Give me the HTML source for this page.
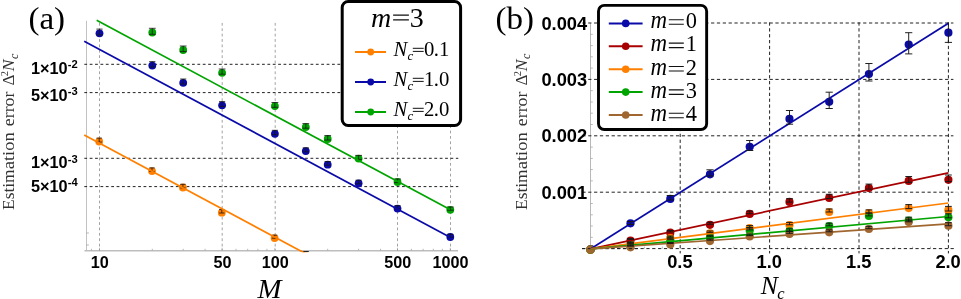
<!DOCTYPE html>
<html><head><meta charset="utf-8"><title>Estimation error</title>
<style>
html,body{margin:0;padding:0;background:#fff;}
body{width:961px;height:299px;overflow:hidden;}
svg{display:block;will-change:transform;}
text{fill:#000;}
.s{font-family:"Liberation Serif",serif;}
.si{font-family:"Liberation Serif",serif;font-style:italic;}
.b{font-family:"Liberation Sans",sans-serif;font-weight:bold;}
g[fill] text{fill:inherit;}
</style></head><body>
<svg width="961" height="299" viewBox="0 0 961 299">
<defs><clipPath id="ca"><rect x="80" y="0" width="400" height="252.2"/></clipPath></defs>
<rect width="961" height="299" fill="#fff"/>
<path d="M86.5 20.8V250.4" stroke="#adadad" stroke-width="0.75" fill="none"/><path d="M84.5 250.8H458" stroke="#bdbdbd" stroke-width="1.6" fill="none"/>
<path d="M91.5 250.4v-1.6M152.3 250.4v-1.6M183.2 250.4v-1.6M205.1 250.4v-1.6M236.0 250.4v-1.6M247.7 250.4v-1.6M257.9 250.4v-1.6M266.9 250.4v-1.6M327.7 250.4v-1.6M358.6 250.4v-1.6M380.5 250.4v-1.6M411.4 250.4v-1.6M423.1 250.4v-1.6M433.3 250.4v-1.6M442.3 250.4v-1.6M99.5 250.4v-2.6M222.1 250.4v-2.6M274.9 250.4v-2.6M397.5 250.4v-2.6M450.3 250.4v-2.6M86.5 233h2.4M86.5 245h2.4" stroke="#9a9a9a" stroke-width="0.7" fill="none"/>
<path d="M99.5 22.9V250.4M222.2 22.9V250.4M275.2 22.9V250.4M397.5 22.9V250.4M450.5 22.9V250.4" stroke="#8c8c8c" stroke-width="0.8" stroke-dasharray="2.8 2.585" fill="none"/>
<path d="M84.3 64.3H458.3M84.3 92.6H458.3M84.3 158.3H458.3M84.3 186.6H458.3" stroke="#222" stroke-width="1" stroke-dasharray="2.8 2.585" fill="none"/>
<g clip-path="url(#ca)">
<circle cx="99.2" cy="141.5" r="3.9" fill="#ff8000"/>
<circle cx="152.0" cy="171.1" r="3.9" fill="#ff8000"/>
<circle cx="182.9" cy="187.5" r="3.9" fill="#ff8000"/>
<circle cx="221.8" cy="212.7" r="3.9" fill="#ff8000"/>
<circle cx="274.6" cy="238.1" r="3.9" fill="#ff8000"/>
<circle cx="305.2" cy="255.6" r="3.9" fill="#ff8000"/><path d="M302.6 251.5H308.8" stroke="#111" stroke-width="0.9"/>
<circle cx="99.5" cy="33.3" r="3.9" fill="#0a0aa8"/>
<circle cx="152.3" cy="65.6" r="3.9" fill="#0a0aa8"/>
<circle cx="183.2" cy="82.8" r="3.9" fill="#0a0aa8"/>
<circle cx="222.1" cy="105.3" r="3.9" fill="#0a0aa8"/>
<circle cx="274.9" cy="133.8" r="3.9" fill="#0a0aa8"/>
<circle cx="305.8" cy="151.1" r="3.9" fill="#0a0aa8"/>
<circle cx="327.7" cy="164.7" r="3.9" fill="#0a0aa8"/>
<circle cx="358.6" cy="183.3" r="3.9" fill="#0a0aa8"/>
<circle cx="397.5" cy="208.6" r="3.9" fill="#0a0aa8"/>
<circle cx="450.3" cy="237.0" r="3.9" fill="#0a0aa8"/>
<circle cx="152.3" cy="32.5" r="3.9" fill="#00a400"/>
<circle cx="183.2" cy="50.0" r="3.9" fill="#00a400"/>
<circle cx="222.1" cy="72.8" r="3.9" fill="#00a400"/>
<circle cx="274.9" cy="106.1" r="3.9" fill="#00a400"/>
<circle cx="305.8" cy="127.1" r="3.9" fill="#00a400"/>
<circle cx="327.7" cy="139.0" r="3.9" fill="#00a400"/>
<circle cx="358.6" cy="158.6" r="3.9" fill="#00a400"/>
<circle cx="397.5" cy="182.0" r="3.9" fill="#00a400"/>
<circle cx="450.3" cy="209.8" r="3.9" fill="#00a400"/>
<path d="M99.2 138.1V142.1M96.5 138.1H101.9M96.5 142.1H101.9M152.0 167.9V171.5M149.3 167.9H154.7M149.3 171.5H154.7M182.9 184.3V187.9M180.2 184.3H185.6M180.2 187.9H185.6M221.8 209.6V213.0M219.1 209.6H224.5M219.1 213.0H224.5M274.6 235.2V238.2M271.9 235.2H277.3M271.9 238.2H277.3M99.5 29.1V34.9M96.4 29.1H102.6M96.4 34.9H102.6M152.3 61.6V67.0M149.2 61.6H155.4M149.2 67.0H155.4M183.2 79.0V84.0M180.1 79.0H186.3M180.1 84.0H186.3M222.1 101.6V106.4M219.0 101.6H225.2M219.0 106.4H225.2M274.9 130.3V134.7M271.8 130.3H278.0M271.8 134.7H278.0M305.8 147.8V151.8M302.7 147.8H308.9M302.7 151.8H308.9M327.7 161.5V165.3M324.6 161.5H330.8M324.6 165.3H330.8M358.6 180.2V183.8M355.5 180.2H361.7M355.5 183.8H361.7M397.5 205.7V208.9M394.4 205.7H400.6M394.4 208.9H400.6M450.3 234.3V237.1M447.2 234.3H453.4M447.2 237.1H453.4M152.3 28.3V34.3M148.9 28.3H155.7M148.9 34.3H155.7M183.2 46.0V51.6M179.8 46.0H186.6M179.8 51.6H186.6M222.1 69.0V74.2M218.7 69.0H225.5M218.7 74.2H225.5M274.9 102.5V107.3M271.5 102.5H278.3M271.5 107.3H278.3M305.8 123.6V128.2M302.4 123.6H309.2M302.4 128.2H309.2M327.7 135.6V140.0M324.3 135.6H331.1M324.3 140.0H331.1M358.6 155.4V159.4M355.2 155.4H362.0M355.2 159.4H362.0M397.5 179.0V182.6M394.1 179.0H400.9M394.1 182.6H400.9M450.3 207.0V210.2M446.9 207.0H453.7M446.9 210.2H453.7" stroke="#161616" stroke-width="0.85" stroke-opacity="0.95" fill="none"/>
</g>
<g clip-path="url(#ca)"><path d="M84.2 135.0L304.4 253.0" stroke="#ff8000" stroke-width="1.7" fill="none"/></g>
<path d="M84.2 41.2L450.0 237.2" stroke="#0a0aa8" stroke-width="1.7" fill="none"/>
<path d="M96.7 20.3L450.0 209.6" stroke="#00a400" stroke-width="1.7" fill="none"/>
<rect x="342.2" y="1.5" width="118.4" height="124.05" rx="6" fill="#fff" stroke="#000" stroke-width="3"/>
<path d="M355 52.0H386" stroke="#ff8000" stroke-width="2"/><circle cx="370.7" cy="52.0" r="3.4" fill="#ff8000"/>
<text class="si" x="393.6" y="56.3" font-size="20.7">N</text><text class="si" x="407.4" y="59.699999999999996" font-size="13">c</text>
<path d="M412.8 48.3H423.7M412.8 51.4H423.7" stroke="#111" stroke-width="1"/>
<text class="s" x="424 433.8 439" y="56.3" font-size="20.7">0.1</text>
<path d="M355 82.0H386" stroke="#0a0aa8" stroke-width="2"/><circle cx="370.7" cy="82.0" r="3.4" fill="#0a0aa8"/>
<text class="si" x="393.6" y="86.3" font-size="20.7">N</text><text class="si" x="407.4" y="89.7" font-size="13">c</text>
<path d="M412.8 78.3H423.7M412.8 81.4H423.7" stroke="#111" stroke-width="1"/>
<text class="s" x="424 433.8 439" y="86.3" font-size="20.7">1.0</text>
<path d="M355 112.0H386" stroke="#00a400" stroke-width="2"/><circle cx="370.7" cy="112.0" r="3.4" fill="#00a400"/>
<text class="si" x="393.6" y="116.3" font-size="20.7">N</text><text class="si" x="407.4" y="119.7" font-size="13">c</text>
<path d="M412.8 108.3H423.7M412.8 111.4H423.7" stroke="#111" stroke-width="1"/>
<text class="s" x="424 433.8 439" y="116.3" font-size="20.7">2.0</text>
<text class="si" x="371" y="26.8" font-size="28">m</text><path d="M393.1 15.1H408.9M393.1 19.9H408.9" stroke="#111" stroke-width="1.1"/><text class="s" x="409.7" y="26.8" font-size="28">3</text>
<text class="b" x="31" y="73.5" font-size="16.3">1×10</text><text class="b" x="67.7" y="67.7" font-size="11.2">-2</text>
<text class="b" x="31" y="100.8" font-size="16.3">5×10</text><text class="b" x="67.7" y="95.0" font-size="11.2">-3</text>
<text class="b" x="31" y="168.4" font-size="16.3">1×10</text><text class="b" x="67.7" y="162.6" font-size="11.2">-3</text>
<text class="b" x="31" y="191.6" font-size="16.3">5×10</text><text class="b" x="67.7" y="185.8" font-size="11.2">-4</text>
<text class="b" x="99.8" y="268" font-size="16.2" text-anchor="middle">10</text>
<text class="b" x="222.4" y="268" font-size="16.2" text-anchor="middle">50</text>
<text class="b" x="275.2" y="268" font-size="16.2" text-anchor="middle">100</text>
<text class="b" x="397.8" y="268" font-size="16.2" text-anchor="middle">500</text>
<text class="b" x="450.6" y="268" font-size="16.2" text-anchor="middle">1000</text>
<text class="si" x="257.6" y="298" font-size="26.5" textLength="24" lengthAdjust="spacingAndGlyphs">M</text>
<text class="s" x="28.4" y="29" font-size="31.6" textLength="36.7" lengthAdjust="spacingAndGlyphs">(a)</text>
<g transform="translate(14.4 0) rotate(-90)" fill="#333"><text class="s" x="-210" y="0" font-size="16" textLength="40.6" lengthAdjust="spacingAndGlyphs">Estim</text><text class="s" x="-169.3" y="0" font-size="16" textLength="37" lengthAdjust="spacingAndGlyphs">ation</text><text class="s" x="-126.2" y="0" font-size="16" textLength="34.6" lengthAdjust="spacingAndGlyphs">error</text><text class="s" x="-85.5" y="0" font-size="17">Δ</text><text class="s" x="-76.2" y="-6" font-size="10.5">2</text><text class="si" x="-71.2" y="0" font-size="17.5">N</text><text class="si" x="-59" y="3.4" font-size="12">c</text></g>
<path d="M590.5 22.9V248.6" stroke="#a6a6a6" stroke-width="0.8" fill="none"/>
<path d="M590.8 237.3h2M590.8 226.0h2M590.8 214.8h2M590.8 203.5h2M590.8 180.9h2M590.8 169.6h2M590.8 158.4h2M590.8 147.1h2M590.8 124.5h2M590.8 113.2h2M590.8 102.0h2M590.8 90.7h2M590.8 68.1h2M590.8 56.8h2M590.8 45.6h2M590.8 34.3h2M608.7 248.6v-2M626.6 248.6v-2M644.4 248.6v-2M662.3 248.6v-2M698.1 248.6v-2M716.0 248.6v-2M733.8 248.6v-2M751.7 248.6v-2M787.5 248.6v-2M805.4 248.6v-2M823.2 248.6v-2M841.1 248.6v-2M876.9 248.6v-2M894.8 248.6v-2M912.6 248.6v-2M930.5 248.6v-2" stroke="#9a9a9a" stroke-width="0.7" fill="none"/>
<path d="M582.0 248.6H955.6M582.35 192.2H953.4M582.35 135.8H953.4M582.35 79.4H953.4M582.35 23.0H953.4" stroke="#222" stroke-width="1" stroke-dasharray="3.25 2.6" fill="none"/>
<path d="M680.2 22.4V253.4M769.6 22.4V253.4M859.0 22.4V253.4M948.4 22.4V253.4" stroke="#222" stroke-width="1" stroke-dasharray="3.3 2.56" fill="none"/>
<circle cx="590.8" cy="249.2" r="4.1" fill="#0a0aa8"/>
<circle cx="630.5" cy="223.3" r="4.1" fill="#0a0aa8"/>
<circle cx="670.3" cy="198.9" r="4.1" fill="#0a0aa8"/>
<circle cx="710.0" cy="174.3" r="4.1" fill="#0a0aa8"/>
<circle cx="749.7" cy="146.8" r="4.1" fill="#0a0aa8"/>
<circle cx="789.5" cy="118.9" r="4.1" fill="#0a0aa8"/>
<circle cx="829.2" cy="101.8" r="4.1" fill="#0a0aa8"/>
<circle cx="868.9" cy="74.0" r="4.1" fill="#0a0aa8"/>
<circle cx="908.7" cy="44.6" r="4.1" fill="#0a0aa8"/>
<circle cx="948.4" cy="32.7" r="4.1" fill="#0a0aa8"/>
<circle cx="590.4" cy="249.7" r="4.1" fill="#a80000"/>
<circle cx="630.5" cy="240.6" r="4.1" fill="#a80000"/>
<circle cx="670.3" cy="232.7" r="4.1" fill="#a80000"/>
<circle cx="710.0" cy="224.8" r="4.1" fill="#a80000"/>
<circle cx="749.7" cy="213.9" r="4.1" fill="#a80000"/>
<circle cx="789.5" cy="201.9" r="4.1" fill="#a80000"/>
<circle cx="829.2" cy="197.9" r="4.1" fill="#a80000"/>
<circle cx="868.9" cy="188.1" r="4.1" fill="#a80000"/>
<circle cx="908.7" cy="180.9" r="4.1" fill="#a80000"/>
<circle cx="948.4" cy="179.8" r="4.1" fill="#a80000"/>
<circle cx="590.4" cy="249.7" r="4.1" fill="#ff8000"/>
<circle cx="630.5" cy="243.8" r="4.1" fill="#ff8000"/>
<circle cx="670.3" cy="238.1" r="4.1" fill="#ff8000"/>
<circle cx="710.0" cy="233.3" r="4.1" fill="#ff8000"/>
<circle cx="749.7" cy="228.1" r="4.1" fill="#ff8000"/>
<circle cx="789.5" cy="225.1" r="4.1" fill="#ff8000"/>
<circle cx="829.2" cy="212.0" r="4.1" fill="#ff8000"/>
<circle cx="868.9" cy="213.1" r="4.1" fill="#ff8000"/>
<circle cx="908.7" cy="208.1" r="4.1" fill="#ff8000"/>
<circle cx="948.4" cy="210.2" r="4.1" fill="#ff8000"/>
<circle cx="590.4" cy="249.7" r="4.1" fill="#00a400"/>
<circle cx="630.5" cy="245.3" r="4.1" fill="#00a400"/>
<circle cx="670.3" cy="240.3" r="4.1" fill="#00a400"/>
<circle cx="710.0" cy="237.5" r="4.1" fill="#00a400"/>
<circle cx="749.7" cy="230.5" r="4.1" fill="#00a400"/>
<circle cx="789.5" cy="231.4" r="4.1" fill="#00a400"/>
<circle cx="829.2" cy="226.0" r="4.1" fill="#00a400"/>
<circle cx="868.9" cy="215.9" r="4.1" fill="#00a400"/>
<circle cx="908.7" cy="220.5" r="4.1" fill="#00a400"/>
<circle cx="948.4" cy="217.3" r="4.1" fill="#00a400"/>
<circle cx="590.4" cy="249.7" r="4.1" fill="#a0662f"/>
<circle cx="630.5" cy="247.3" r="4.1" fill="#a0662f"/>
<circle cx="670.3" cy="244.5" r="4.1" fill="#a0662f"/>
<circle cx="710.0" cy="241.1" r="4.1" fill="#a0662f"/>
<circle cx="749.7" cy="236.4" r="4.1" fill="#a0662f"/>
<circle cx="789.5" cy="233.9" r="4.1" fill="#a0662f"/>
<circle cx="829.2" cy="232.3" r="4.1" fill="#a0662f"/>
<circle cx="868.9" cy="229.0" r="4.1" fill="#a0662f"/>
<circle cx="908.7" cy="222.0" r="4.1" fill="#a0662f"/>
<circle cx="948.4" cy="225.7" r="4.1" fill="#a0662f"/>
<path d="M582.0 248.6H640" stroke="#222" stroke-width="1" stroke-dasharray="3.25 2.6" fill="none"/>
<path d="M590.8 248.79999999999998L948.4 23.2" stroke="#0a0aa8" stroke-width="1.7" fill="none"/>
<path d="M590.8 248.79999999999998L948.4 172.9" stroke="#a80000" stroke-width="1.7" fill="none"/>
<path d="M590.8 248.79999999999998L948.4 203.0" stroke="#ff8000" stroke-width="1.7" fill="none"/>
<path d="M590.8 248.79999999999998L948.4 216.5" stroke="#00a400" stroke-width="1.7" fill="none"/>
<path d="M590.8 248.79999999999998L948.4 223.9" stroke="#a0662f" stroke-width="1.7" fill="none"/>
<path d="M630.5 221.5V224.5M626.9 221.5H634.1M626.9 224.5H634.1M670.3 195.5V200.0M666.7 195.5H673.9M666.7 200.0H673.9M710.0 169.8V176.0M706.4 169.8H713.6M706.4 176.0H713.6M749.7 140.5V150.5M746.1 140.5H753.3M746.1 150.5H753.3M789.5 110.5V124.2M785.9 110.5H793.1M785.9 124.2H793.1M829.2 92.2V108.5M825.6 92.2H832.8M825.6 108.5H832.8M868.9 63.5V81.0M865.3 63.5H872.5M865.3 81.0H872.5M908.7 32.7V53.9M905.1 32.7H912.3M905.1 53.9H912.3M948.4 22.4V42.4M944.8 42.4H952.0M630.5 238.6V239.6M627.1 238.6H633.9M627.1 239.6H633.9M670.3 230.5V231.9M666.9 230.5H673.7M666.9 231.9H673.7M710.0 222.3V224.3M706.6 222.3H713.4M706.6 224.3H713.4M749.7 211.1V213.7M746.3 211.1H753.1M746.3 213.7H753.1M789.5 198.7V202.1M786.1 198.7H792.9M786.1 202.1H792.9M829.2 194.3V198.5M825.8 194.3H832.6M825.8 198.5H832.6M868.9 184.1V189.1M865.5 184.1H872.3M865.5 189.1H872.3M908.7 176.5V182.3M905.3 176.5H912.1M905.3 182.3H912.1M948.4 175.0V181.6M945.0 175.0H951.8M945.0 181.6H951.8M630.5 241.9V242.7M627.1 241.9H633.9M627.1 242.7H633.9M670.3 236.0V237.2M666.9 236.0H673.7M666.9 237.2H673.7M710.0 231.0V232.6M706.6 231.0H713.4M706.6 232.6H713.4M749.7 225.6V227.6M746.3 225.6H753.1M746.3 227.6H753.1M789.5 222.4V224.8M786.1 222.4H792.9M786.1 224.8H792.9M829.2 209.0V212.0M825.8 209.0H832.6M825.8 212.0H832.6M868.9 209.9V213.3M865.5 209.9H872.3M865.5 213.3H872.3M908.7 204.6V208.6M905.3 204.6H912.1M905.3 208.6H912.1M948.4 206.4V211.0M945.0 206.4H951.8M945.0 211.0H951.8M630.5 243.4V244.2M627.1 243.4H633.9M627.1 244.2H633.9M670.3 238.3V239.3M666.9 238.3H673.7M666.9 239.3H673.7M710.0 235.3V236.7M706.6 235.3H713.4M706.6 236.7H713.4M749.7 228.1V229.9M746.3 228.1H753.1M746.3 229.9H753.1M789.5 228.8V231.0M786.1 228.8H792.9M786.1 231.0H792.9M829.2 223.2V225.8M825.8 223.2H832.6M825.8 225.8H832.6M868.9 212.9V215.9M865.5 212.9H872.3M865.5 215.9H872.3M908.7 217.2V220.8M905.3 217.2H912.1M905.3 220.8H912.1M948.4 213.8V217.8M945.0 213.8H951.8M945.0 217.8H951.8M630.5 245.4V246.2M627.1 245.4H633.9M627.1 246.2H633.9M670.3 242.5V243.5M666.9 242.5H673.7M666.9 243.5H673.7M710.0 239.0V240.2M706.6 239.0H713.4M706.6 240.2H713.4M749.7 234.2V235.6M746.3 234.2H753.1M746.3 235.6H753.1M789.5 231.5V233.3M786.1 231.5H792.9M786.1 233.3H792.9M829.2 229.8V231.8M825.8 229.8H832.6M825.8 231.8H832.6M868.9 226.3V228.7M865.5 226.3H872.3M865.5 228.7H872.3M908.7 219.2V221.8M905.3 219.2H912.1M905.3 221.8H912.1M948.4 222.7V225.7M945.0 222.7H951.8M945.0 225.7H951.8" stroke="#161616" stroke-width="1.0" stroke-opacity="0.95" fill="none"/>
<rect x="598.5" y="5.4" width="108.15" height="124.15" rx="5.8" fill="#fff" stroke="#000" stroke-width="2.9"/>
<path d="M608.8 23.4H642.6" stroke="#0a0aa8" stroke-width="2"/><circle cx="625.7" cy="23.4" r="3.8" fill="#0a0aa8"/>
<text class="si" x="650.4" y="27.9" font-size="24.8" textLength="16.6" lengthAdjust="spacingAndGlyphs">m</text><path d="M668.8 19.8H683.8M668.8 24.3H683.8" stroke="#111" stroke-width="1.1"/><text class="s" x="685.8" y="27.9" font-size="24" textLength="11.2" lengthAdjust="spacingAndGlyphs">0</text>
<path d="M608.8 46.3H642.6" stroke="#a80000" stroke-width="2"/><circle cx="625.7" cy="46.3" r="3.8" fill="#a80000"/>
<text class="si" x="650.4" y="51.2" font-size="24.8" textLength="16.6" lengthAdjust="spacingAndGlyphs">m</text><path d="M668.8 43.1H683.8M668.8 47.6H683.8" stroke="#111" stroke-width="1.1"/><text class="s" x="685.8" y="51.2" font-size="24" textLength="11.2" lengthAdjust="spacingAndGlyphs">1</text>
<path d="M608.8 69.2H642.6" stroke="#ff8000" stroke-width="2"/><circle cx="625.7" cy="69.2" r="3.8" fill="#ff8000"/>
<text class="si" x="650.4" y="74.6" font-size="24.8" textLength="16.6" lengthAdjust="spacingAndGlyphs">m</text><path d="M668.8 66.5H683.8M668.8 71.0H683.8" stroke="#111" stroke-width="1.1"/><text class="s" x="685.8" y="74.6" font-size="24" textLength="11.2" lengthAdjust="spacingAndGlyphs">2</text>
<path d="M608.8 92.1H642.6" stroke="#00a400" stroke-width="2"/><circle cx="625.7" cy="92.1" r="3.8" fill="#00a400"/>
<text class="si" x="650.4" y="98.0" font-size="24.8" textLength="16.6" lengthAdjust="spacingAndGlyphs">m</text><path d="M668.8 89.9H683.8M668.8 94.4H683.8" stroke="#111" stroke-width="1.1"/><text class="s" x="685.8" y="98.0" font-size="24" textLength="11.2" lengthAdjust="spacingAndGlyphs">3</text>
<path d="M608.8 115.0H642.6" stroke="#a0662f" stroke-width="2"/><circle cx="625.7" cy="115.0" r="3.8" fill="#a0662f"/>
<text class="si" x="650.4" y="121.3" font-size="24.8" textLength="16.6" lengthAdjust="spacingAndGlyphs">m</text><path d="M668.8 113.2H683.8M668.8 117.7H683.8" stroke="#111" stroke-width="1.1"/><text class="s" x="685.8" y="121.3" font-size="24" textLength="11.2" lengthAdjust="spacingAndGlyphs">4</text>
<text class="b" x="587.2" y="198.7" font-size="18.3" text-anchor="end">0.001</text>
<text class="b" x="587.2" y="142.3" font-size="18.3" text-anchor="end">0.002</text>
<text class="b" x="587.2" y="85.9" font-size="18.3" text-anchor="end">0.003</text>
<text class="b" x="587.2" y="29.5" font-size="18.3" text-anchor="end">0.004</text>
<text class="b" x="679.9" y="268.1" font-size="18.3" text-anchor="middle">0.5</text>
<text class="b" x="769.3" y="268.1" font-size="18.3" text-anchor="middle">1.0</text>
<text class="b" x="858.7" y="268.1" font-size="18.3" text-anchor="middle">1.5</text>
<text class="b" x="948.1" y="268.1" font-size="18.3" text-anchor="middle">2.0</text>
<text class="si" x="760.8" y="293.9" font-size="25.6">N</text><text class="si" x="777.2" y="298.6" font-size="16.5">c</text>
<text class="s" x="495.6" y="28.8" font-size="31.6" textLength="38.5" lengthAdjust="spacingAndGlyphs">(b)</text>
<g transform="translate(527 0) rotate(-90)" fill="#333"><text class="s" x="-210" y="0" font-size="16" textLength="40.6" lengthAdjust="spacingAndGlyphs">Estim</text><text class="s" x="-169.3" y="0" font-size="16" textLength="37" lengthAdjust="spacingAndGlyphs">ation</text><text class="s" x="-126.2" y="0" font-size="16" textLength="34.6" lengthAdjust="spacingAndGlyphs">error</text><text class="s" x="-85.5" y="0" font-size="17">Δ</text><text class="s" x="-76.2" y="-6" font-size="10.5">2</text><text class="si" x="-71.2" y="0" font-size="17.5">N</text><text class="si" x="-59" y="3.4" font-size="12">c</text></g>
</svg>
</body></html>
